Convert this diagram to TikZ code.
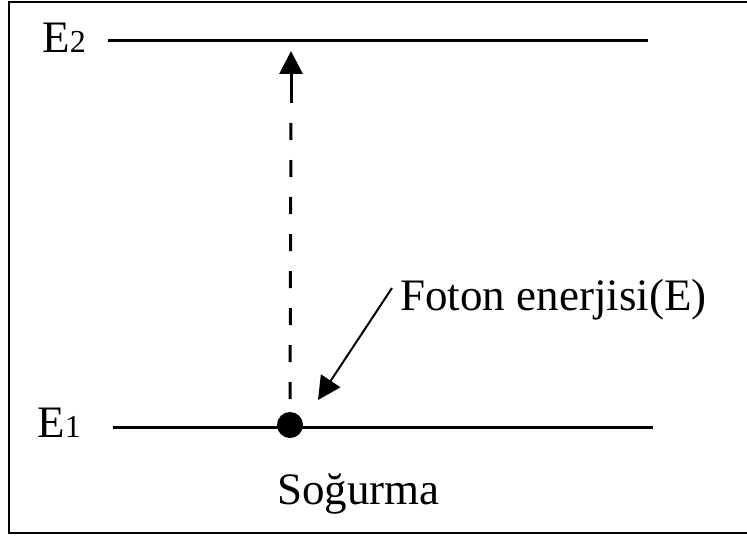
\documentclass[tikz,border=0pt]{standalone}
\usepackage{fontspec}
\setmainfont{Liberation Serif}
\usetikzlibrary{arrows.meta}

\begin{document}
\begin{tikzpicture}[x=0.5pt, y=-0.5pt,
    level/.style={line width=1.5pt},
    lbl/.style={font=\fontsize{22.5}{27}\selectfont, inner sep=0pt},
    tip/.style={-{Triangle[length=11.5pt,width=11.5pt]}}]
    \useasboundingbox (0,0) rectangle (747,535);
    % frame, its right side runs off the page
    \draw[line width=1.2pt] (9,2) rectangle (770,533);
    % the two levels
    \coordinate (E2a) at (108,41);
    \coordinate (E2b) at (648,41);
    \coordinate (E1a) at (113,427);
    \coordinate (E1b) at (653,427);
    \draw[level] (E2a) -- (E2b);
    \draw[level] (E1a) -- (E1b);
    \node[lbl, anchor=base west] (E2lab) at (42,53) {E{\fontsize{16}{16}\selectfont 2}};
    \node[lbl, anchor=base west] (E1lab) at (37,437) {E{\fontsize{16}{16}\selectfont 1}};
    % electron on E1, excited up to E2
    \node[circle, fill=black, inner sep=0pt, minimum size=13pt] (atom) at (290,425) {};
    \coordinate (top) at (291,51);
    \coordinate (solid) at (291,103);
    \draw[line width=1.5pt, tip] (solid) -- (top);
    \draw[line width=1.5pt, dash pattern=on 8.5pt off 10pt, dash phase=8.5pt] (solid) -- (atom.north);
    % incoming photon
    \node[lbl, anchor=base west] (foton) at (400,310) {Foton enerjisi(E)};
    \coordinate (fstart) at (392,288);
    \coordinate (fend) at (318,400);
    \draw[line width=1pt, tip] (fstart) -- (fend);
    \node[lbl, anchor=base west] (sogurma) at (277,504) {Soğurma};
\end{tikzpicture}
\end{document}
